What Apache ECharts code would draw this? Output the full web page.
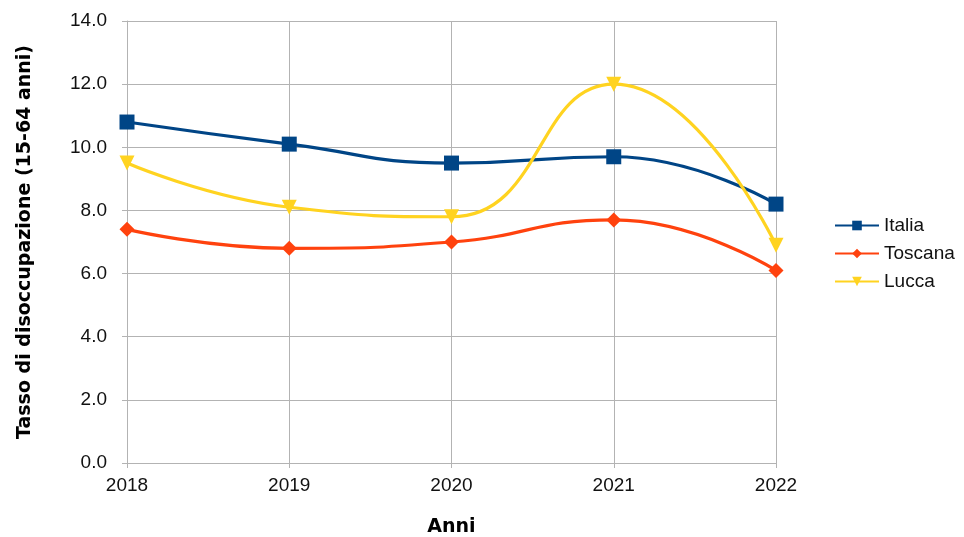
<!DOCTYPE html>
<html>
<head>
<meta charset="utf-8">
<script src="https://cdn.jsdelivr.net/npm/echarts@6/dist/echarts.min.js"></script>
<style>
html,body{margin:0;padding:0;background:#fff;}
#chart{width:964px;height:537px;}
</style>
</head>
<body>
<div id="chart"></div>
<script>
// dati
var anni = ['2018', '2019', '2020', '2021', '2022'];
var italia = [10.8, 10.1, 9.5, 9.7, 8.2];
var toscana = [7.4, 6.8, 7.0, 7.7, 6.1];
var lucca = [9.5, 8.1, 7.8, 12.0, 6.9];

var myChart = echarts.init(document.getElementById('chart'));
var font = 'Liberation Sans';
var fontTitolo = 'DejaVu Sans';

function serie(nome, dati, colore, simbolo, dim){
	return {
		name: nome,
		type: 'line',
		smooth: 0.5,
		data: dati,
		symbol: simbolo,
		symbolSize: dim,
		lineStyle: {color: colore, width: 3.2},
		itemStyle: {color: colore}
	};
}

var option = {
	animation: false,
	textStyle: {fontFamily: font},
	grid: {left: 127, right: 188, top: 21, bottom: 74, outerBoundsMode: 'none', containLabel: false},
	legend: {
		orient: 'vertical',
		left: 829, top: 211,
		itemWidth: 44, itemHeight: 12, itemGap: 9,
		textStyle: {fontFamily: font, fontSize: 19, color: '#111'},
		data: ['Italia', 'Toscana', 'Lucca']
	},
	xAxis: {
		type: 'category',
		data: anni,
		boundaryGap: false,
		name: 'Anni',
		nameLocation: 'middle',
		nameGap: 55,
		nameTextStyle: {fontFamily: fontTitolo, fontSize: 19, fontWeight: 'bold', color: '#000'},
		axisLine: {lineStyle: {color: '#b3b3b3', width: 1}},
		axisTick: {show: true, alignWithLabel: true, length: 5, lineStyle: {color: '#b3b3b3'}},
		axisLabel: {fontFamily: font, fontSize: 19, color: '#111', margin: 13},
		splitLine: {show: true, lineStyle: {color: '#b3b3b3', width: 1}}
	},
	yAxis: {
		type: 'value',
		min: 0, max: 14, interval: 2,
		name: 'Tasso di disoccupazione (15-64 anni)',
		nameLocation: 'middle',
		nameGap: 92,
		nameTextStyle: {fontFamily: fontTitolo, fontSize: 19, fontWeight: 'bold', color: '#000'},
		axisLine: {show: true, lineStyle: {color: '#b3b3b3', width: 1}},
		axisTick: {show: true, length: 5, lineStyle: {color: '#b3b3b3'}},
		axisLabel: {fontFamily: font, fontSize: 19, color: '#111', margin: 20,
			formatter: function(v){ return v.toFixed(1); }},
		splitLine: {show: true, lineStyle: {color: '#b3b3b3', width: 1}}
	},
	series: [
		serie('Italia', italia, '#004586', 'rect', 15),
		serie('Toscana', toscana, '#ff420e', 'diamond', 15),
		serie('Lucca', lucca, '#ffd320', 'triangle', 15)
	]
};
// triangolo rivolto in basso per Lucca
option.series[2].symbolRotate = 180;

myChart.setOption(option);
</script>
</body>
</html>
